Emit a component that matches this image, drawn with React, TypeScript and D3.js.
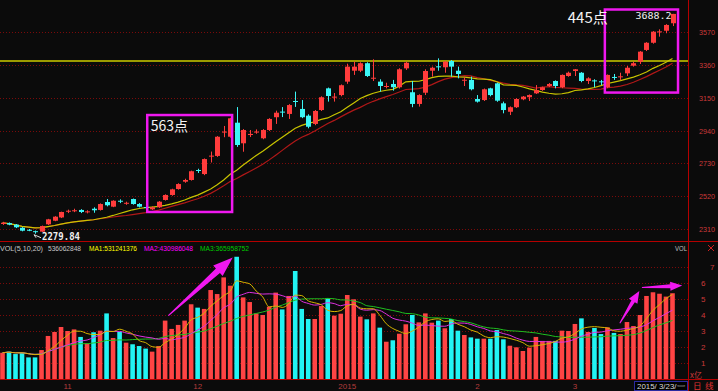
import React from "react";
import * as d3 from "d3";

// ---- Data (SSE daily, 2014-10-20 .. 2015-03-23) ----
const openPrices = [2342,2348,2338,2318,2305,2296,2293,2340,2363,2384,2424,2426,2432,2419,2440,2432,2483,2453,2491,2473,2502,2470,2451,2436,2449,2496,2528,2566,2613,2624,2688,2662,2776,2778,2930,2901,2991,2859,2912,2930,2891,2944,3026,3062,3047,3130,3079,3036,2983,3072,3211,3155,3168,3254,3324,3324,3372,3275,3254,3222,3239,3218,3339,3186,3111,3183,3324,3352,3346,3386,3324,3262,3265,3143,3136,3211,3243,3115,3061,3090,3141,3154,3179,3200,3226,3258,3218,3290,3322,3311,3258,3262,3256,3218,3284,3284,3307,3356,3382,3457,3503,3570,3580,3628];
const highPrices = [2356,2352,2342,2322,2310,2300,2332,2375,2392,2421,2434,2440,2437,2430,2449,2474,2502,2494,2500,2485,2505,2476,2458,2455,2489,2532,2568,2603,2632,2684,2696,2762,2806,2905,2970,3022,3091,2950,2944,2948,2950,3020,3068,3091,3110,3190,3136,3045,3072,3160,3216,3181,3236,3369,3382,3378,3378,3397,3269,3247,3265,3340,3382,3258,3173,3333,3350,3403,3385,3392,3350,3282,3286,3168,3210,3215,3247,3126,3095,3148,3162,3172,3232,3222,3245,3262,3300,3318,3335,3315,3282,3269,3265,3300,3303,3311,3354,3382,3450,3507,3578,3589,3622,3688.2];
const lowPrices = [2336,2334,2316,2295,2296,2279.84,2290,2336,2360,2380,2412,2418,2412,2410,2414,2428,2455,2450,2476,2465,2466,2448,2440,2432,2445,2492,2523,2562,2606,2620,2669,2655,2736,2772,2898,2895,2836,2805,2899,2920,2885,2938,2983,3027,3015,3092,3020,2955,2975,3066,3126,3126,3160,3240,3297,3315,3284,3258,3190,3211,3196,3210,3329,3090,3094,3168,3286,3324,3311,3286,3275,3226,3198,3120,3130,3160,3125,3051,3040,3085,3135,3130,3175,3195,3220,3211,3212,3285,3290,3250,3239,3218,3232,3212,3265,3265,3290,3350,3367,3450,3497,3542,3564,3610];
const closePrices = [2350,2338,2321,2299,2302,2290,2329,2372,2389,2419,2427,2430,2419,2423,2430,2470,2462,2491,2487,2478,2470,2453,2449,2449,2485,2528,2564,2598,2624,2680,2683,2758,2780,2901,2934,3019,2848,2944,2919,2934,2944,3015,3055,3058,3104,3126,3026,2965,3066,3154,3162,3158,3231,3350,3350,3372,3290,3279,3226,3226,3218,3333,3375,3111,3168,3322,3343,3348,3382,3350,3303,3266,3205,3126,3205,3168,3132,3072,3090,3143,3158,3168,3200,3218,3239,3226,3297,3311,3333,3258,3275,3258,3252,3297,3280,3288,3343,3372,3446,3503,3574,3576,3617,3687.7];
// volume in 亿 (1e8)
const volumeYi = [1.64,1.71,1.56,1.64,1.35,1.35,1.81,2.69,2.94,3.25,3.0,3.1,2.63,2.23,2.92,3.02,4.1,2.56,2.96,2.27,2.17,2.06,1.9,1.71,2.06,3.65,3.13,3.38,3.65,4.67,4.46,4.38,5.56,5.31,6.35,5.83,7.64,5.1,4.81,4.1,4.0,4.52,5.4,4.35,5.19,6.75,4.38,3.75,3.75,4.56,5.04,3.96,4.08,5.25,4.98,3.9,3.73,4.1,3.21,2.33,2.42,2.83,3.42,4.0,3.54,4.1,3.52,3.65,3.17,3.75,3.02,2.75,2.6,2.52,2.52,2.52,3.06,2.48,2.08,1.98,1.75,1.96,2.63,2.38,2.38,2.38,3.02,3.0,3.44,3.79,2.94,3.19,2.81,3.23,2.88,2.81,3.56,3.31,4.0,5.19,5.42,5.33,5.15,5.36];

const priceTicks = [2310, 2520, 2730, 2940, 3150, 3360, 3570];
const volumeTicks = [1, 2, 3, 4, 5, 6, 7];
const monthTickIndex = [10, 30, 53, 73, 88];
const monthTickLabels = ["11", "12", "2015", "2", "3"];
const resistanceLevel = 3386;
const lowLabel = "2279.84";
const highLabel = "3688.2";
const priceMaPeriods = [15, 20];
const volMaPeriods = [5, 10, 20];
const legendVolName = "VOL(5,10,20)";
const legendVolValue = "536062848";
const legendMA = ["MA1:531241376", "MA2:430986048", "MA3:365958752"];
const gainLabels = ["563点", "445点"];
const dateLabel = "2015/ 3/23/一";

const W = 718, H = 391;
const RIGHT = 688.5;
const BG = "#0b0b0b";
const UP = "#ff3c3c";
const DOWN = "#3cf6f6";
const GRID = "#7a0a0a";
const AXIS = "#b40000";
const LABEL = "#cc3a3a";
const MAG = "#f018f0";
const MONO = "'DejaVu Sans Mono', monospace";
const NARROW = "'Liberation Sans', Arial, sans-serif";
const CJK = "'Noto Sans CJK SC', sans-serif";

function sma(arr: number[], n: number) {
  return arr.map((_, i) => d3.mean(arr.slice(Math.max(0, i - n + 1), i + 1)) as number);
}

function arrowPoly(x1: number, y1: number, x2: number, y2: number, tailHalf: number, shaftHalf: number, headHalf: number, headLen: number) {
  const dx = x2 - x1, dy = y2 - y1;
  const L = Math.hypot(dx, dy);
  const ux = dx / L, uy = dy / L;
  const nx = -uy, ny = ux;
  const bx = x2 - ux * headLen, by = y2 - uy * headLen;
  const pts = [
    [x1 + nx * tailHalf, y1 + ny * tailHalf],
    [bx + nx * shaftHalf, by + ny * shaftHalf],
    [bx + nx * headHalf, by + ny * headHalf],
    [x2, y2],
    [bx - nx * headHalf, by - ny * headHalf],
    [bx - nx * shaftHalf, by - ny * shaftHalf],
    [x1 - nx * tailHalf, y1 - ny * tailHalf],
  ];
  return pts.map((p) => p.join(",")).join(" ");
}

export default function App() {
  const n = closePrices.length;
  const x = d3.scaleLinear().domain([0, n - 1]).range([2.5, 672.5]);
  const yP = d3.scaleLinear().domain([2310, 3570]).range([229, 32.3]);
  const yV = d3.scaleLinear().domain([0, 6]).range([379, 283]);

  const priceMAs = priceMaPeriods.map((p) => sma(closePrices, p));
  const volMAs = volMaPeriods.map((p) => sma(volumeYi, p));
  const lineP = d3.line<number>().x((_, i) => x(i)).y((d) => yP(d));
  const lineV = d3.line<number>().x((_, i) => x(i)).y((d) => yV(d)).curve(d3.curveMonotoneX);

  const bodyW = 5;
  const volW = 4.6;
  const lowIdx = lowPrices.indexOf(d3.min(lowPrices) as number);
  const highIdx = highPrices.indexOf(d3.max(highPrices) as number);

  return (
    <div style={{ position: "absolute", left: 0, top: 0 }}>
      <svg width={W} height={H} style={{ display: "block", background: BG }}>
        <rect x={0} y={0} width={W} height={H} fill={BG} />

        {/* price grid */}
        {priceTicks.map((t) => (
          <line key={"pg" + t} x1={0} x2={RIGHT} y1={Math.round(yP(t)) + 0.5} y2={Math.round(yP(t)) + 0.5}
            stroke={GRID} strokeDasharray="1,2" />
        ))}
        {/* volume grid */}
        {volumeTicks.map((t) => (
          <line key={"vg" + t} x1={0} x2={RIGHT} y1={Math.round(yV(t)) + 0.5} y2={Math.round(yV(t)) + 0.5}
            stroke={GRID} strokeDasharray="1,2" />
        ))}

        {/* resistance line */}
        <line x1={0} x2={RIGHT} y1={yP(resistanceLevel)} y2={yP(resistanceLevel)} stroke="#9c9c00" strokeWidth={2} />

        {/* price MAs */}
        <path d={lineP(priceMAs[1]) || ""} fill="none" stroke="#b01818" strokeWidth={1.2} />
        <path d={lineP(priceMAs[0]) || ""} fill="none" stroke="#c8c400" strokeWidth={1.2} />

        {/* candles */}
        {closePrices.map((c, i) => {
          const o = openPrices[i];
          const up = c >= o;
          const col = up ? UP : DOWN;
          const top = yP(Math.max(o, c));
          const bot = yP(Math.min(o, c));
          const cx = Math.round(x(i)) + 0.5;
          return (
            <g key={"c" + i}>
              <line x1={cx} x2={cx} y1={yP(highPrices[i])} y2={yP(lowPrices[i])} stroke={col} strokeWidth={1} />
              <rect x={cx - bodyW / 2} y={top} width={bodyW} height={Math.max(1, bot - top)} fill={col} />
            </g>
          );
        })}

        {/* volume bars */}
        {volumeYi.map((v, i) => {
          const up = closePrices[i] >= openPrices[i];
          return (
            <rect key={"v" + i} x={x(i) - volW / 2} y={yV(v)} width={volW} height={yV(0) - yV(v)}
              fill={up ? "#ff4444" : "#22f4f4"} />
          );
        })}
        {/* volume MAs */}
        <path d={lineV(volMAs[2]) || ""} fill="none" stroke="#1fbf1f" strokeWidth={1} />
        <path d={lineV(volMAs[1]) || ""} fill="none" stroke="#e030e0" strokeWidth={1} />
        <path d={lineV(volMAs[0]) || ""} fill="none" stroke="#d8b400" strokeWidth={1} />

        {/* frame lines */}
        <line x1={0} x2={W} y1={241.5} y2={241.5} stroke={AXIS} strokeWidth={1} />
        <line x1={0} x2={W} y1={379.5} y2={379.5} stroke={AXIS} strokeWidth={1} />
        <line x1={RIGHT} x2={RIGHT} y1={0} y2={H} stroke={AXIS} strokeWidth={1} />

        {/* price axis labels */}
        {priceTicks.map((t) => (
          <text key={"pl" + t} x={699} y={yP(t) + 3} fill={LABEL} fontFamily={NARROW} fontSize={8}
            textLength={16} lengthAdjust="spacingAndGlyphs">{t}</text>
        ))}
        {/* volume axis labels */}
        {volumeTicks.map((t) => (
          <text key={"vl" + t} x={t === 7 ? 710 : 701} y={yV(t) + 3} fill={LABEL} fontFamily={NARROW} fontSize={8}>{t}</text>
        ))}
        <text x={690} y={377.5} fill={LABEL} fontFamily={CJK} fontSize={8}>x亿</text>

        {/* month labels */}
        {monthTickIndex.map((idx, k) => (
          <text key={"m" + k} x={x(idx)} y={388.5} textAnchor="middle" fill="#b43c3c" fontFamily={NARROW} fontSize={8}>{monthTickLabels[k]}</text>
        ))}

        {/* date box */}
        <rect x={634.5} y={381.5} width={53} height={9} fill="#000" stroke="#2a2aa0" strokeWidth={1} />
        <text x={637} y={389} fill="#d8d8d8" fontFamily={NARROW} fontSize={7.5} textLength={48} lengthAdjust="spacingAndGlyphs">{dateLabel}</text>
        <text x={693} y={389} fill="#e03030" fontFamily={CJK} fontSize={8.5}>日</text>
        <text x={705} y={389} fill="#e03030" fontFamily={CJK} fontSize={8.5}>线</text>

        {/* volume legend */}
        <text x={0} y={250.5} fill="#c8c8c8" fontFamily={NARROW} fontSize={7.5} textLength={43} lengthAdjust="spacingAndGlyphs">{legendVolName}</text>
        <text x={48} y={250.5} fill="#c8c8c8" fontFamily={NARROW} fontSize={7.5} textLength={33} lengthAdjust="spacingAndGlyphs">{legendVolValue}</text>
        <text x={89} y={250.5} fill="#ffff00" fontFamily={NARROW} fontSize={7.5} textLength={48} lengthAdjust="spacingAndGlyphs">{legendMA[0]}</text>
        <text x={144} y={250.5} fill="#ff00ff" fontFamily={NARROW} fontSize={7.5} textLength={49} lengthAdjust="spacingAndGlyphs">{legendMA[1]}</text>
        <text x={200} y={250.5} fill="#00cc00" fontFamily={NARROW} fontSize={7.5} textLength={49} lengthAdjust="spacingAndGlyphs">{legendMA[2]}</text>
        <text x={675} y={250.5} fill="#c0c0c0" fontFamily={NARROW} fontSize={7.5} textLength={12} lengthAdjust="spacingAndGlyphs">VOL</text>
        <line x1={708} x2={714} y1={245} y2={251} stroke="#d02020" strokeWidth={1} />
        <line x1={714} x2={708} y1={245} y2={251} stroke="#d02020" strokeWidth={1} />

        {/* low / high labels */}
        <line x1={x(lowIdx) + 6} y1={yP(lowPrices[lowIdx]) + 4} x2={x(lowIdx) - 1} y2={yP(lowPrices[lowIdx]) + 1} stroke="#e0e0e0" strokeWidth={1} />
        <line x1={x(lowIdx) - 1} y1={yP(lowPrices[lowIdx]) + 1} x2={x(lowIdx) + 1} y2={yP(lowPrices[lowIdx]) + 4} stroke="#e0e0e0" strokeWidth={1} />
        <text x={x(lowIdx) + 7} y={yP(lowPrices[lowIdx]) + 6} fill="#f0f0f0" fontFamily={MONO} fontWeight="bold" fontSize={10}
          textLength={38} lengthAdjust="spacingAndGlyphs">{lowLabel}</text>
        <text x={x(highIdx) - 37} y={yP(highPrices[highIdx]) + 5} fill="#f0f0f0" fontFamily={MONO} fontSize={9.5}
          textLength={36} lengthAdjust="spacingAndGlyphs">{highLabel}</text>

        {/* annotation boxes */}
        <rect x={x(22.25)} y={yP(3040)} width={x(35.3) - x(22.25)} height={yP(2419) - yP(3040)} fill="none" stroke={MAG} strokeWidth={2.5} />
        <rect x={x(92.6)} y={yP(3716)} width={x(103.85) - x(92.6)} height={yP(3184) - yP(3716)} fill="none" stroke={MAG} strokeWidth={2.5} />
        <text x={x(22.8)} y={yP(2938)} fill="#f4f4f4" fontFamily={CJK} fontSize={14}>{gainLabels[0]}</text>
        <text x={x(86.9)} y={yP(3630)} fill="#f4f4f4" fontFamily={CJK} fontSize={15}>{gainLabels[1]}</text>

        {/* volume arrows */}
        <polygon points={arrowPoly(x(25.5), yV(3.96), x(35.4), yV(7.6), 0.6, 3, 7, 20)} fill={MAG} />
        <polygon points={arrowPoly(x(94.9), yV(3.48), x(97.9), yV(5.5), 0.5, 2, 5, 12)} fill={MAG} />
        <polygon points={arrowPoly(x(98.3), yV(5.72), x(104.5), yV(5.84), 0.5, 2, 4.5, 12)} fill={MAG} />
      </svg>
    </div>
  );
}
